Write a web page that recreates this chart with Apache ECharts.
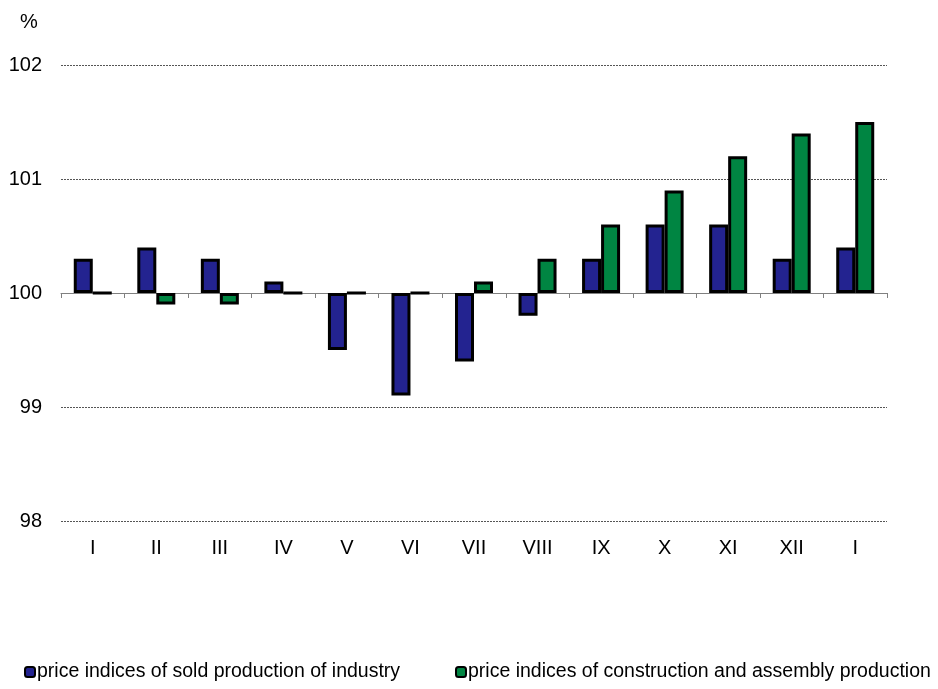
<!DOCTYPE html>
<html>
<head>
<meta charset="utf-8">
<script src="https://cdn.jsdelivr.net/npm/echarts@6/dist/echarts.min.js"></script>
<style>
  html, body { margin: 0; padding: 0; background: #fff; }
  #chart { width: 938px; height: 689px; }
</style>
</head>
<body>
<div id="chart"></div>
<script>
var months = ['I', 'II', 'III', 'IV', 'V', 'VI', 'VII', 'VIII', 'IX', 'X', 'XI', 'XII', 'I'];
var industry = [100.3, 100.4, 100.3, 100.1, 99.5, 99.1, 99.4, 99.8, 100.3, 100.6, 100.6, 100.3, 100.4];
var construction = [100.0, 99.9, 99.9, 100.0, 100.0, 100.0, 100.1, 100.3, 100.6, 100.9, 101.2, 101.4, 101.5];
var base = 100;

var names = ['price indices of sold production of industry',
             'price indices of construction and assembly production'];

// bars hang from 100, so plot the difference and label the axis back
function fromBase(arr) {
    return arr.map(function (v) { return Math.round((v - base) * 10) / 10; });
}

var font = 'Liberation Sans, Arial, sans-serif';
var myChart = echarts.init(document.getElementById('chart'));

var option = {
    animation: false,
    textStyle: { fontFamily: font },
    title: {
        text: '%',
        left: 15,
        top: 7,
        textStyle: { fontSize: 20, fontWeight: 'normal', color: '#000', fontFamily: font }
    },
    grid: { left: 61, right: 51, top: 65, bottom: 168, containLabel: false },
    legend: [{
        data: [names[0]],
        left: 24,
        top: 662,
        padding: 0,
        itemWidth: 10,
        itemHeight: 10,
        itemGap: 0,
        textStyle: { fontSize: 19.5, color: '#000', padding: [0, 0, 0, -3] }
    }, {
        data: [names[1]],
        left: 455,
        top: 662,
        padding: 0,
        itemWidth: 10,
        itemHeight: 10,
        itemGap: 0,
        textStyle: { fontSize: 19.5, color: '#000', padding: [0, 0, 0, -3] }
    }],
    xAxis: [{
        type: 'category',
        data: months,
        position: 'bottom',
        axisLine: { onZero: true, lineStyle: { color: '#808080', width: 1 } },
        axisTick: { show: true, length: 5, lineStyle: { color: '#808080' } },
        axisLabel: { show: false },
        splitLine: { show: false }
    }, {
        type: 'category',
        data: months,
        position: 'bottom',
        axisLine: { show: false, onZero: false },
        axisTick: { show: false },
        axisLabel: { fontSize: 20, color: '#000', margin: 17 },
        splitLine: { show: false }
    }],
    yAxis: {
        type: 'value',
        min: -2,
        max: 2,
        interval: 1,
        axisLine: { show: false },
        axisTick: { show: false },
        axisLabel: {
            fontSize: 20,
            color: '#000',
            margin: 19,
            formatter: function (v) { return String(v + base); }
        },
        splitLine: { lineStyle: { color: '#555', type: [2, 1], width: 1 } }
    },
    series: [{
        name: names[0],
        type: 'bar',
        xAxisIndex: 0,
        data: fromBase(industry),
        barWidth: 19,
        barGap: '0%',
        itemStyle: { color: '#232390', borderColor: '#000', borderWidth: 3 }
    }, {
        name: names[1],
        type: 'bar',
        xAxisIndex: 0,
        data: fromBase(construction),
        barWidth: 19,
        barGap: '0%',
        itemStyle: { color: '#008542', borderColor: '#000', borderWidth: 3 }
    }]
};

myChart.setOption(option);
</script>
</body>
</html>
